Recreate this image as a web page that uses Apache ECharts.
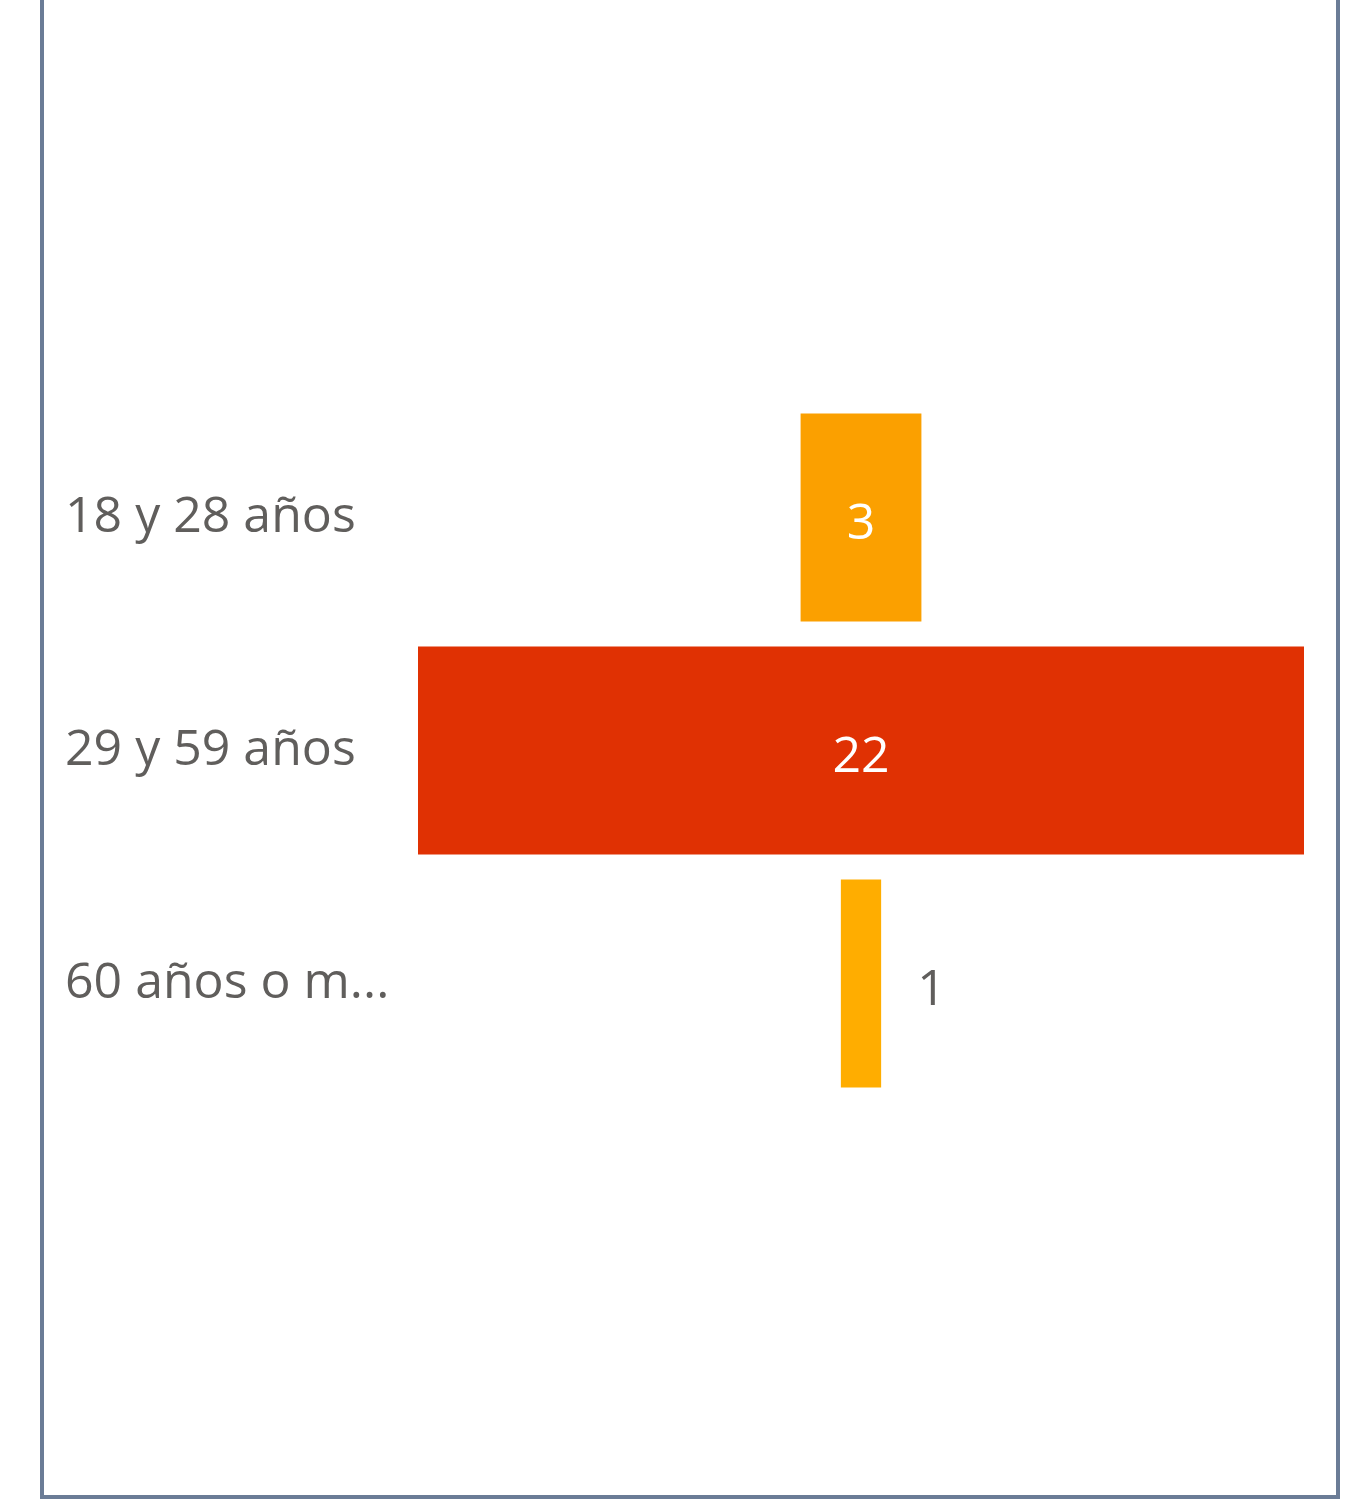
<!DOCTYPE html>
<html>
<head>
<meta charset="utf-8">
<title>Funnel por edad</title>
<script src="https://cdn.jsdelivr.net/npm/echarts@6/dist/echarts.min.js"></script>
<style>
  html, body { margin: 0; padding: 0; background: #fff; }
  #chart { width: 1352px; height: 1508px; }
</style>
</head>
<body>
<div id="chart"></div>
<script>
// datos
const categories = ['18 y 28 años', '29 y 59 años', '60 años o más']
const values = [3, 22, 1]

const barColors = ['#FBA000', '#E03103', '#FFAD00']
const maxValue = Math.max(...values)

const chart = echarts.init(document.getElementById('chart'))

// offset invisible para centrar cada barra (efecto embudo)
const offsets = values.map(v => (maxValue - v) / 2)

const option = {
  backgroundColor: '#ffffff',
  textStyle: { fontFamily: '"Open Sans", "Noto Sans", sans-serif' },
  graphic: [
    {
      type: 'rect',
      shape: { x: 42, y: -10, width: 1296, height: 1507 },
      style: { fill: 'none', stroke: '#6B7C96', lineWidth: 4 },
      silent: true
    }
  ],
  grid: { left: 418, right: 48, top: 401, bottom: 408 },
  xAxis: {
    type: 'value',
    min: 0,
    max: maxValue,
    show: false
  },
  yAxis: {
    type: 'category',
    data: categories,
    inverse: true,
    axisLine: { show: false },
    axisTick: { show: false },
    axisLabel: {
      align: 'left',
      margin: 353,
      color: '#605E5C',
      fontSize: 50,
      padding: [10, 0, 0, 0],
      width: 332,
      overflow: 'truncate',
      ellipsis: '...'
    }
  },
  series: [
    {
      name: 'offset',
      type: 'bar',
      stack: 'funnel',
      barWidth: 208,
      silent: true,
      itemStyle: { color: 'transparent' },
      data: offsets
    },
    {
      name: 'valor',
      type: 'bar',
      stack: 'funnel',
      barWidth: 208,
      data: values.map((v, i) => {
        const inside = v / maxValue > 0.1
        return {
          value: v,
          itemStyle: { color: barColors[i] },
          label: inside
            ? { position: 'inside', color: '#ffffff' }
            : { position: 'right', distance: 36, color: '#605E5C' }
        }
      }),
      label: {
        show: true,
        fontSize: 50,
        offset: [0, 7]
      }
    }
  ]
}

chart.setOption(option)
</script>
</body>
</html>
